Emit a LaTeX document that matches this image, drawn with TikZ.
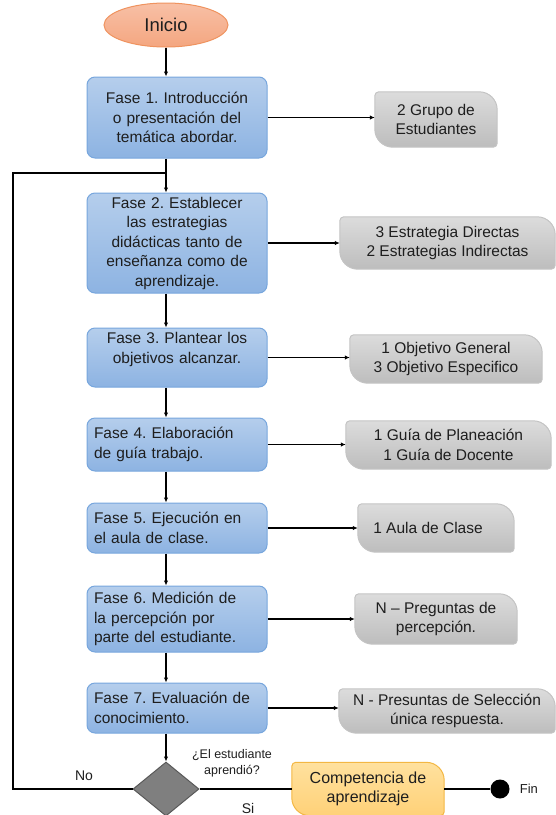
\documentclass[tikz,border=0pt]{standalone}
\usepackage{fontspec}
\setmainfont{Liberation Sans}
\frenchspacing
\usetikzlibrary{
    arrows.meta,
    shapes.geometric,
    backgrounds,
    positioning
}

\definecolor{textgrey}{HTML}{1E1E1E}
\definecolor{fasetop}{HTML}{B5CEEC}
\definecolor{fasebot}{HTML}{8DB3E2}
\definecolor{faseline}{HTML}{77A6DD}
\definecolor{greytop}{HTML}{DCDCDC}
\definecolor{greybot}{HTML}{BDBDBD}
\definecolor{greyline}{HTML}{C4C4C4}
\definecolor{iniciotop}{HTML}{F8C0A6}
\definecolor{iniciobot}{HTML}{F4A680}
\definecolor{inicioline}{HTML}{EF935F}
\definecolor{comptop}{HTML}{FFE19E}
\definecolor{compbot}{HTML}{FFD178}
\definecolor{compline}{HTML}{F3B743}
\definecolor{decfill}{HTML}{7F7F7F}
\definecolor{decline}{HTML}{595959}

% box with two big and two small corners (node, big radius, small radius)
\newcommand{\diagshape}[3]{%
    ([xshift=#3]#1.north west) -- ([xshift=-#2]#1.north east)
    arc[start angle=90, end angle=0, radius=#2] -- ([yshift=#3]#1.south east)
    arc[start angle=0, end angle=-90, radius=#3] -- ([xshift=#2]#1.south west)
    arc[start angle=270, end angle=180, radius=#2] -- ([yshift=-#3]#1.north west)
    arc[start angle=180, end angle=90, radius=#3] -- cycle}

\tikzset{
    fase/.style={draw=faseline, line width=1pt, rounded corners=8pt,
        top color=fasetop, bottom color=fasebot, text=textgrey,
        minimum width=180pt, text width=166pt, inner xsep=7pt, inner ysep=2pt,
        font=\fontsize{15.5}{19.5}\selectfont},
    resultado/.style={inner sep=0pt, align=center, text=textgrey,
        font=\fontsize{15.5}{19.5}\selectfont},
    etiqueta/.style={inner sep=0pt, align=center, text=textgrey},
    flecha/.style={line width=1.5pt, -{Latex[length=5pt,width=4.5pt]}},
    linea/.style={line width=1.5pt}
}

\begin{document}
\begin{tikzpicture}[x=1pt, y=1pt]
                        \useasboundingbox (0, 0) rectangle (555, -815);

                        \node[ellipse, draw=inicioline, line width=1pt, top color=iniciotop, bottom color=iniciobot,
                            minimum width=124pt, minimum height=44pt, inner sep=0pt, text=textgrey,
                            font=\fontsize{18.5}{22}\selectfont] (inicio) at (166, -25) {Inicio};
                        \coordinate (eje) at (166, 0);

                        \node[fase, align=center, minimum height=81pt] (f1) at (177, -117.5) {Fase 1. Introducción\\o presentación del\\temática abordar.};
                        \node[fase, align=center, minimum height=100pt] (f2) at (177, -243) {Fase 2. Establecer\\las estrategias\\didácticas tanto de\\enseñanza como de\\aprendizaje.};
                        \node[fase, align=center, minimum height=59pt] (f3) at (177, -357.5) {Fase 3. Plantear los\\objetivos alcanzar.\\~};
                        \node[fase, align=left, minimum height=53pt] (f4) at (177, -444.5) {Fase 4. Elaboración\\de guía trabajo.};
                        \node[fase, align=left, minimum height=50pt] (f5) at (177, -528) {Fase 5. Ejecución en\\el aula de clase.};
                        \node[fase, align=left, minimum height=66pt] (f6) at (177, -619) {Fase 6. Medición de\\la percepción por\\parte del estudiante.};
                        \node[fase, align=left, minimum height=50pt] (f7) at (177, -708) {Fase 7. Evaluación de\\conocimiento.};

                        \node[resultado, minimum width=122pt, minimum height=55pt] (g1) at (436, -119.5) {2 Grupo de\\Estudiantes};
                        \node[resultado, minimum width=215pt, minimum height=52pt] (g2) at (447.5, -243) {3 Estrategia Directas\\2 Estrategias Indirectas};
                        \node[resultado, minimum width=192pt, minimum height=48pt] (g3) at (446, -359) {1 Objetivo General\\3 Objetivo Especifico};
                        \node[resultado, minimum width=205pt, minimum height=48pt] (g4) at (448.5, -445) {1 Guía de Planeación\\1 Guía de Docente};
                        \node[resultado, minimum width=156pt, minimum height=48pt, xshift=-8pt] (g5txt) at (436, -528) {1 Aula de Clase};
                        \node[resultado, minimum width=156pt, minimum height=48pt] (g5) at (436, -528) {};
                        \node[resultado, minimum width=162pt, minimum height=50pt] (g6) at (436, -619) {N -- Preguntas de\\percepción.};
                        \node[resultado, minimum width=216pt, minimum height=44pt] (g7) at (447, -711) {N - Presuntas de Selección\\única respuesta.};

                        \node[diamond, draw=decline, line width=1pt, fill=decfill, inner sep=0pt,
                            minimum width=66pt, minimum height=54pt] (dec) at (166, -789) {};
                        \node[etiqueta, font=\fontsize{12.5}{16.5}\selectfont] (preg) at (232, -763.5) {¿El estudiante\\aprendió?};
                        \node[etiqueta, font=\fontsize{14}{16}\selectfont] (no) at (84, -776) {No};
                        \node[etiqueta, font=\fontsize{14}{16}\selectfont] (si) at (248, -808) {Si};

                        \node[resultado, minimum width=152pt, minimum height=53pt,
                            font=\fontsize{16}{18.5}\selectfont] (comp) at (368, -789) {Competencia de\\aprendizaje};
                        \node[circle, fill=black, minimum size=19pt, inner sep=0pt] (fin) at (500, -789) {};
                        \node[etiqueta, font=\fontsize{13}{15}\selectfont, right=10pt of fin] (fintxt) {Fin};

                        \begin{scope}[on background layer]
                            \foreach \n in {g1, g2, g3, g4, g5, g6, g7}
                                \path[draw=greyline, line width=1pt, top color=greytop, bottom color=greybot] \diagshape{\n}{18pt}{4pt};
                            \path[draw=compline, line width=1pt, top color=comptop, bottom color=compbot] \diagshape{comp}{18pt}{4pt};
                        \end{scope}

                        \draw[flecha] (inicio) -- (eje |- f1.north);
                        \draw[flecha] (eje |- f1.south) -- (eje |- f2.north);
                        \draw[flecha] (eje |- f2.south) -- (eje |- f3.north);
                        \draw[flecha] (eje |- f3.south) -- (eje |- f4.north);
                        \draw[flecha] (eje |- f4.south) -- (eje |- f5.north);
                        \draw[flecha] (eje |- f5.south) -- (eje |- f6.north);
                        \draw[flecha] (eje |- f6.south) -- (eje |- f7.north);
                        \draw[flecha] (eje |- f7.south) -- (dec.north);

                        \draw[flecha] (f1.east) -- (f1.east -| g1.west);
                        \draw[flecha] (f2.east) -- (f2.east -| g2.west);
                        \draw[flecha] (f3.east) -- (f3.east -| g3.west);
                        \draw[flecha] (f4.east) -- (f4.east -| g4.west);
                        \draw[flecha] (f5.east) -- (f5.east -| g5.west);
                        \draw[flecha] (f6.east) -- (f6.east -| g6.west);
                        \draw[flecha] (f7.east) -- (f7.east -| g7.west);

                        % vuelta a la fase 2
                        \coordinate (ret) at (13, -173);
                        \draw[linea] (dec.west) -| (ret) -- (ret -| eje);

                        \draw[linea] (dec.east) -- (comp.west);
                        \draw[linea] (comp.east) -- (fin);
                    \end{tikzpicture}
\end{document}
